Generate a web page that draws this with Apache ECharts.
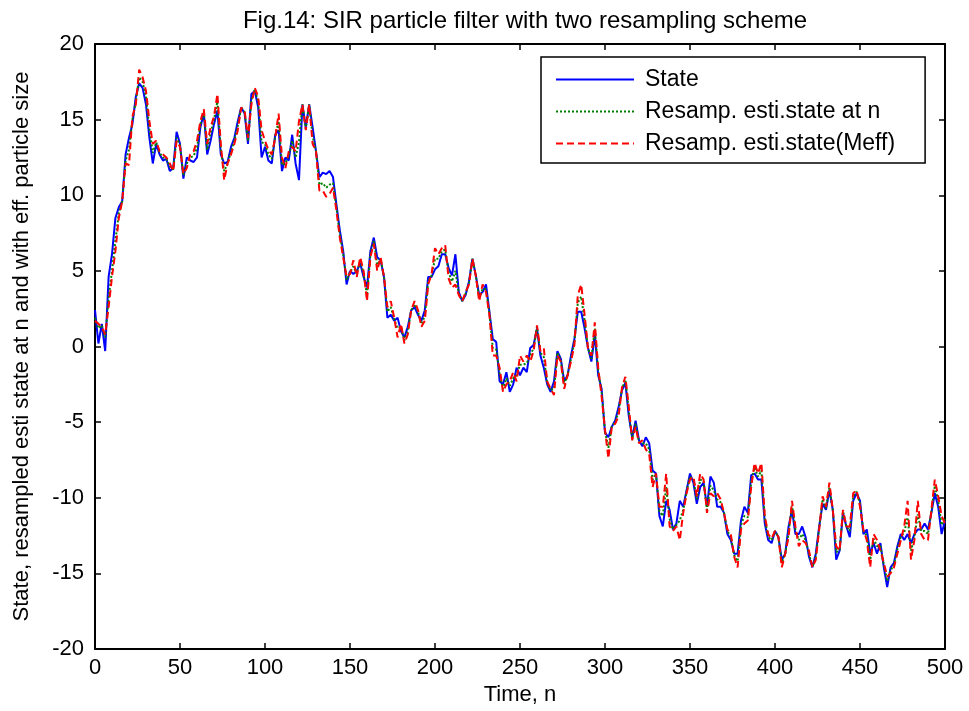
<!DOCTYPE html>
<html>
<head>
<meta charset="utf-8">
<script src="https://cdn.jsdelivr.net/npm/echarts@6/dist/echarts.min.js"></script>
<style>html,body{margin:0;padding:0;background:#fff;}#c{width:969px;height:711px;}</style>
</head>
<body>
<div id="c"></div>
<script>
var titleText = 'Fig.14: SIR particle filter with two resampling scheme';
var xName = 'Time, n';
var yName = 'State, resampled esti state at n and with eff. particle size';
var seriesNames = ['State', 'Resamp. esti.state at n', 'Resamp. esti.state(Meff)'];
var timeStep = 2; // samples at n = 0, 2, 4, ..., 500

var stateVals = [
2.4,0.2,1.5,-0.3,4.6,6.1,8.5,9.2,9.6,12.7,13.8,14.7,16.5,17.4,17.1,16.0,13.8,12.1,13.4,12.7,
12.3,12.4,11.6,11.8,14.2,13.4,11.1,12.5,12.3,12.2,12.5,14.5,15.4,12.7,13.6,14.7,15.6,12.7,12.1,12.2,
13.2,13.8,14.9,15.8,15.4,13.4,16.7,16.9,15.8,12.5,13.2,12.3,12.1,14.0,14.3,11.6,12.5,12.3,14.0,12.1,
11.0,16.0,14.5,16.0,14.5,12.9,11.2,11.5,11.4,11.6,11.2,9.4,7.7,6.3,4.1,5.0,4.8,5.0,5.5,4.6,
3.9,6.3,7.2,5.9,5.7,4.6,1.9,2.1,1.7,1.9,1.0,0.6,1.3,2.4,2.6,2.1,1.7,2.4,4.6,4.6,
5.1,5.3,6.1,6.1,5.2,4.7,6.1,3.6,3.0,3.4,4.3,5.8,4.7,3.4,3.6,4.1,2.3,0.5,0.3,-2.3,
-2.5,-1.7,-3.0,-2.5,-1.4,-1.9,-1.4,-1.7,-0.1,0.1,1.2,-0.6,-1.4,-2.5,-3.0,-2.3,-0.3,-0.8,-2.3,-1.9,
-0.6,0.5,2.3,2.3,1.2,-0.1,-1.0,0.8,-1.9,-2.8,-5.7,-6.0,-5.3,-4.9,-4.0,-2.9,-2.4,-4.6,-6.0,-4.9,
-6.2,-6.6,-6.0,-6.4,-8.2,-8.4,-11.2,-11.9,-10.2,-10.8,-12.1,-11.7,-10.2,-10.6,-9.5,-8.4,-9.0,-10.4,-9.3,-9.0,
-10.6,-8.6,-9.0,-10.6,-10.6,-11.0,-12.4,-12.8,-13.7,-13.7,-11.5,-10.6,-11.0,-8.5,-8.4,-8.8,-8.8,-11.7,-12.8,-13.0,
-12.2,-12.6,-14.1,-13.7,-11.9,-10.8,-12.4,-12.4,-11.9,-12.6,-13.9,-14.6,-13.7,-11.9,-10.4,-10.8,-9.5,-10.8,-14.1,-13.5,
-11.0,-11.9,-12.6,-10.2,-9.7,-10.2,-12.4,-12.1,-13.7,-13.0,-13.7,-13.0,-14.6,-15.9,-14.6,-14.3,-13.2,-12.4,-12.8,-12.4,
-13.0,-12.4,-12.1,-12.1,-11.7,-12.1,-11.0,-9.7,-10.6,-12.4,-11.5
];

var resampVals = [
1.9,1.2,1.4,0.6,3.2,5.0,7.0,8.8,9.6,12.3,13.0,15.0,16.2,17.8,17.5,16.5,14.4,12.8,13.5,12.8,
12.5,12.4,11.9,11.7,13.8,13.3,11.3,12.1,12.5,12.6,13.1,14.7,15.5,13.0,14.1,15.0,16.2,13.0,11.6,12.1,
12.9,13.6,14.6,15.8,15.5,13.6,16.3,17.0,16.2,13.5,13.4,12.7,12.4,13.9,14.9,12.0,12.1,12.6,13.6,12.5,
13.5,16.0,14.4,16.0,13.9,12.9,10.7,10.8,10.5,10.7,10.8,9.2,7.4,6.1,4.4,4.9,5.3,4.8,5.7,4.8,
3.4,6.1,7.0,5.4,5.8,4.6,2.3,2.6,1.8,1.2,1.3,0.4,1.0,2.4,2.8,2.3,1.5,2.0,4.3,4.7,
5.8,5.8,6.3,6.4,4.9,4.3,5.0,3.5,3.0,3.5,4.2,5.8,4.7,3.2,3.8,3.8,2.2,-0.1,-0.2,-1.8,
-2.8,-2.1,-2.6,-2.1,-1.9,-1.2,-1.2,-1.1,-0.6,-0.1,1.3,-0.4,-0.7,-2.4,-2.9,-2.8,-0.4,-0.9,-2.5,-1.9,
-0.8,0.3,2.9,3.3,1.7,-0.1,-0.8,1.2,-1.6,-3.0,-5.6,-6.7,-5.3,-5.0,-4.3,-2.8,-2.2,-4.3,-6.1,-5.1,
-6.3,-6.4,-6.4,-6.8,-8.8,-8.4,-10.9,-11.2,-9.3,-11.4,-12.1,-11.8,-11.5,-10.8,-9.6,-8.6,-8.8,-10.1,-8.8,-8.9,
-10.8,-9.2,-9.5,-10.1,-10.3,-11.0,-12.2,-12.6,-13.8,-14.2,-11.8,-11.2,-11.3,-8.9,-8.0,-8.6,-8.2,-11.4,-12.6,-12.8,
-12.2,-12.6,-14.3,-13.7,-12.3,-10.5,-12.1,-12.8,-12.4,-12.8,-13.7,-14.6,-13.9,-12.0,-10.1,-10.7,-9.3,-10.8,-13.6,-13.5,
-10.9,-11.9,-12.2,-9.9,-9.6,-10.4,-12.2,-12.5,-14.1,-12.7,-13.2,-13.2,-14.4,-15.5,-14.8,-14.4,-13.4,-12.6,-12.3,-11.3,
-13.5,-12.6,-11.1,-12.2,-12.2,-12.4,-10.9,-9.2,-10.2,-11.8,-11.4
];

var meffVals = [
1.7,1.5,1.3,0.8,2.6,4.6,6.3,8.5,9.6,12.1,12.0,15.2,16.0,18.3,17.8,16.9,14.9,13.4,13.6,12.9,
12.7,12.5,12.1,11.6,13.6,13.2,11.4,11.8,12.7,12.9,13.6,14.9,15.7,13.4,14.5,15.2,16.7,13.4,11.0,12.1,
12.7,13.4,14.3,15.8,15.6,13.8,16.0,17.1,16.5,14.3,13.6,13.0,12.7,13.8,15.4,12.5,11.8,12.9,13.2,12.9,
14.9,16.0,14.3,16.0,13.4,12.9,10.3,10.3,9.9,10.1,10.5,9.0,7.2,5.9,4.6,4.8,5.7,4.6,5.9,5.0,
3.0,5.9,6.8,5.0,5.9,4.6,2.6,3.0,1.9,0.6,1.5,0.2,0.8,2.4,3.0,2.4,1.3,1.7,4.1,4.8,
6.5,6.1,6.5,6.7,4.5,3.9,4.1,3.4,3.0,3.6,4.1,5.8,4.7,3.0,4.1,3.6,2.1,-0.6,-0.6,-1.4,
-3.0,-2.5,-2.3,-1.7,-2.3,-0.6,-1.0,-0.6,-1.0,-0.3,1.4,-0.3,-0.1,-2.3,-2.8,-3.2,-0.6,-1.0,-2.8,-1.9,
-1.0,0.1,3.4,4.1,2.1,-0.1,-0.6,1.6,-1.4,-3.3,-5.5,-7.4,-5.3,-5.1,-4.6,-2.7,-2.0,-4.0,-6.2,-5.3,
-6.4,-6.2,-6.8,-7.1,-9.3,-8.4,-10.6,-10.6,-8.4,-11.9,-12.2,-11.9,-12.8,-11.0,-9.7,-8.8,-8.6,-9.9,-8.4,-8.8,
-11.0,-9.7,-9.9,-9.7,-10.1,-11.0,-12.1,-12.4,-13.9,-14.6,-12.1,-11.7,-11.5,-9.3,-7.7,-8.4,-7.7,-11.2,-12.4,-12.7,
-12.2,-12.6,-14.6,-13.7,-12.6,-10.2,-11.9,-13.2,-12.8,-13.0,-13.5,-14.6,-14.1,-12.1,-9.9,-10.6,-9.0,-10.8,-13.2,-13.5,
-10.8,-11.9,-11.9,-9.7,-9.5,-10.6,-12.1,-12.8,-14.6,-12.4,-12.8,-13.5,-14.3,-15.2,-15.0,-14.6,-13.7,-12.8,-11.9,-10.2,
-14.1,-12.8,-10.2,-12.4,-12.8,-12.8,-10.8,-8.8,-9.9,-11.2,-11.7
];

var xTicks = [0,50,100,150,200,250,300,350,400,450,500];
var yTicks = [-20,-15,-10,-5,0,5,10,15,20];

function pairs(vals){
  var out = [];
  for (var i = 0; i < vals.length; i++) out.push([i * timeStep, vals[i]]);
  return out;
}

var font = 'Liberation Sans, Arial, sans-serif';
var chart = echarts.init(document.getElementById('c'), null, {renderer:'canvas'});
var axisLine = {show:true, onZero:false, lineStyle:{color:'#000', width:2}};
var tick = {show:true, inside:true, length:6, lineStyle:{color:'#000', width:1.5}};

chart.setOption({
  animation:false,
  backgroundColor:'#fff',
  title:{text:titleText, left:520, textAlign:'center', top:4,
    textStyle:{fontFamily:font, fontSize:24, fontWeight:'normal', color:'#000'}},
  grid:{left:95, right:24, top:44, bottom:62, show:false},
  legend:{
    orient:'vertical', left:541, top:57,
    data:seriesNames,
    itemWidth:78, itemHeight:14, itemGap:9,
    padding:[11,30,8,14],
    itemStyle:{opacity:0},
    borderColor:'#000', borderWidth:1.5, backgroundColor:'#fff',
    textStyle:{fontFamily:font, fontSize:23, color:'#000', padding:[0,0,0,6]}
  },
  xAxis:[{
    type:'value', min:xTicks[0], max:xTicks[xTicks.length-1], interval:50, position:'bottom',
    axisLine:axisLine, axisTick:tick, splitLine:{show:false},
    axisLabel:{fontFamily:font, fontSize:22, color:'#000', margin:8},
    name:xName, nameLocation:'middle', nameGap:29,
    nameTextStyle:{fontFamily:font, fontSize:22, color:'#000'}
  },{
    type:'value', min:xTicks[0], max:xTicks[xTicks.length-1], interval:50, position:'top',
    axisLine:axisLine, axisTick:tick, splitLine:{show:false}, axisLabel:{show:false}
  }],
  yAxis:[{
    type:'value', min:yTicks[0], max:yTicks[yTicks.length-1], interval:5, position:'left',
    axisLine:axisLine, axisTick:tick, splitLine:{show:false},
    axisLabel:{fontFamily:font, fontSize:22, color:'#000', margin:11},
    name:yName, nameLocation:'middle', nameGap:62,
    nameTextStyle:{fontFamily:font, fontSize:22, color:'#000'}
  },{
    type:'value', min:yTicks[0], max:yTicks[yTicks.length-1], interval:5, position:'right',
    axisLine:axisLine, axisTick:tick, splitLine:{show:false}, axisLabel:{show:false}
  }],
  series:[
    {name:seriesNames[0], type:'line', data:pairs(stateVals), symbol:'none',
     lineStyle:{color:'#0000ff', width:2, type:'solid'}, itemStyle:{color:'#0000ff'}},
    {name:seriesNames[1], type:'line', data:pairs(resampVals), symbol:'none',
     lineStyle:{color:'#008000', width:2, type:[2,2]}, itemStyle:{color:'#008000'}},
    {name:seriesNames[2], type:'line', data:pairs(meffVals), symbol:'none',
     lineStyle:{color:'#ff0000', width:2, type:[7,4]}, itemStyle:{color:'#ff0000'}}
  ]
});
</script>
</body>
</html>
